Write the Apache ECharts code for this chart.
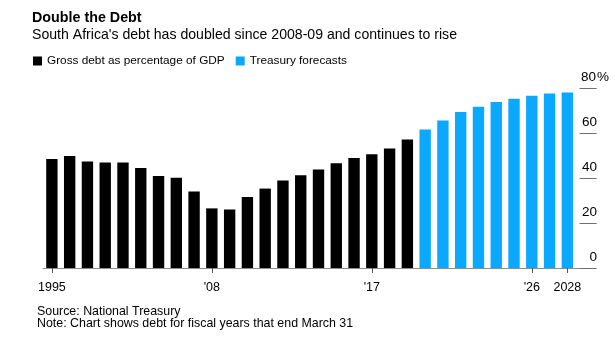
<!DOCTYPE html>
<html>
<head>
<meta charset="utf-8">
<script src="https://cdn.jsdelivr.net/npm/echarts@6/dist/echarts.min.js"></script>
<style>
html,body{margin:0;padding:0;background:#fff;}
#chart{width:615px;height:337px;}
</style>
</head>
<body>
<div id="chart"></div>
<script>
// Categories (fiscal years as labelled on the source chart)
const years = ['1995','2000','2001','2002','2003','2004','2005','2006','2007','2008',
  '2009','2010','2011','2012','2013','2014','2015','2016','2017','2018',
  '2019','2020','2021','2022','2023','2024','2025','2026','2027','2028'];
// Gross debt as % of GDP (actual)
const actualDebt = [48.5,49.8,47.3,46.9,46.9,44.5,40.9,40.1,34.0,26.5,
  26.0,31.6,35.3,38.9,41.2,43.8,46.6,48.9,50.6,53.1,57.1];
// Treasury forecasts
const forecastDebt = [61.6,65.6,69.3,71.7,73.8,75.2,76.6,77.6,78.0];
// Labelled x positions
const labelledYears = ['1995','2008','2017','2026','2028'];
// Y-axis tick values
const yTickValues = [0, 20, 40, 60, 80];

const n = years.length;
const yMin = yTickValues[0], yMax = yTickValues[yTickValues.length - 1];
const yStep = yTickValues[1] - yTickValues[0];
const blackData = years.map((y,i) => i < actualDebt.length ? actualDebt[i] : '-');
const blueData = years.map((y,i) => i >= actualDebt.length ? forecastDebt[i - actualDebt.length] : '-');
const axisCats = years.concat(['']);
const labelIdx = labelledYears.map(y => years.indexOf(y));
const tickData = yTickValues.map(v => [n, v]);
const FONT = 'Liberation Sans, Arial, Helvetica, sans-serif';

const chart = echarts.init(document.getElementById('chart'), null, {renderer: 'canvas'});
chart.setOption({
  animation: false,
  backgroundColor: '#fff',
  title: [
    {text: 'Double the Debt', left: 27, top: 6,
     textStyle: {fontFamily: FONT, fontSize: 14.3, fontWeight: 'bold', color: '#000'}},
    {text: "South Africa's debt has doubled since 2008-09 and continues to rise", left: 27, top: 23,
     textStyle: {fontFamily: FONT, fontSize: 14.1, fontWeight: 'normal', color: '#000'}},
    {text: 'Source: National Treasury\nNote: Chart shows debt for fiscal years that end March 31', left: 32, top: 301,
     textStyle: {fontFamily: FONT, fontSize: 12.4, fontWeight: 'normal', color: '#000', lineHeight: 12}}
  ],
  legend: {
    left: 28, top: 50, icon: 'rect', itemWidth: 9, itemHeight: 9, itemGap: 11,
    textStyle: {fontFamily: FONT, fontSize: 11.8, color: '#000'},
    data: ['Gross debt as percentage of GDP', 'Treasury forecasts']
  },
  grid: {left: 43, right: 21, top: 88, bottom: 69},
  xAxis: {
    type: 'category', data: axisCats, boundaryGap: true,
    axisLine: {show: true, lineStyle: {color: '#8c8c8c', width: 1}},
    axisTick: {show: true, alignWithLabel: true, length: 5, lineStyle: {color: '#555'},
      interval: (i) => labelIdx.includes(i)},
    axisLabel: {
      interval: (i) => labelIdx.includes(i), margin: 13,
      fontFamily: FONT, fontSize: 12.5, color: '#000',
      formatter: (v, i) => (i === 0 || i === n - 1) ? v : "'" + v.slice(2)
    },
    splitLine: {show: false}
  },
  yAxis: {
    type: 'value', position: 'right', offset: 3,
    min: yMin, max: yMax, interval: yStep,
    splitLine: {show: false},
    axisLine: {show: false},
    axisTick: {show: false},
    axisLabel: {
      inside: true, margin: 17, align: 'left', verticalAlign: 'bottom', padding: [0,0,4,0],
      formatter: (v) => v === yMax ? '{a|' + v + '}{p|%}' : '{a|' + v + '}',
      rich: {
        a: {width: 17, align: 'right', fontFamily: FONT, fontSize: 13.5, color: '#000'},
        p: {fontFamily: FONT, fontSize: 13.5, color: '#000'}
      }
    }
  },
  series: [
    {name: 'Gross debt as percentage of GDP', type: 'bar', data: blackData,
     itemStyle: {color: '#000'}, barWidth: '64%', barGap: '-100%'},
    {name: 'Treasury forecasts', type: 'bar', data: blueData,
     itemStyle: {color: '#0aa8ff'}, barWidth: '64%', barGap: '-100%'},
    {name: 'yTicks', type: 'custom', data: tickData, silent: true, clip: false, z: 5,
     renderItem: (params, api) => {
       const p = api.coord([api.value(0), api.value(1)]);
       const y = Math.round(p[1]) + 0.5;
       return {type: 'line',
         shape: {x1: p[0] - 5.5, y1: y, x2: p[0] + 11.5, y2: y},
         style: {stroke: '#6e6e6e', lineWidth: 1}};
     }}
  ]
});
</script>
</body>
</html>
